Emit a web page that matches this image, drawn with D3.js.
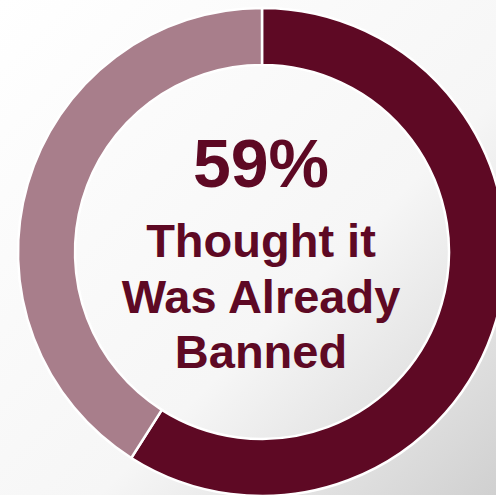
<!DOCTYPE html>
<html>
<head>
<meta charset="utf-8">
<script src="https://cdn.jsdelivr.net/npm/d3@7"></script>
<style>
  html, body { margin: 0; padding: 0; overflow: hidden; }
  svg { display: block; }
</style>
</head>
<body>
<svg id="chart"></svg>
<script>
// data
var categories = ["Thought it was already banned", "Did not"];
var values = [59, 41];
var sliceColors = ["#5e0924", "#a87e8b"];
var labelLines = ["59%", "Thought it", "Was Already", "Banned"];

const width = 496;
const height = 495;
const cx = 262, cy = 252;
const outerR = 244, innerR = 187;

var svg = d3.select("#chart")
	.attr("width", width)
	.attr("height", height);

// background gradient
var defs = svg.append("defs");
var grad = defs.append("linearGradient")
	.attr("id", "bg")
	.attr("x1", "0").attr("y1", "0")
	.attr("x2", "1").attr("y2", "1");
grad.append("stop").attr("offset", "0").attr("stop-color", "#ffffff");
grad.append("stop").attr("offset", "0.6").attr("stop-color", "#f6f6f6");
grad.append("stop").attr("offset", "1").attr("stop-color", "#d0d0d0");

svg.append("rect")
	.attr("width", width)
	.attr("height", height)
	.attr("fill", "url(#bg)");

var pie = d3.pie().sort(null).value(d => d);
var arc = d3.arc().innerRadius(innerR).outerRadius(outerR);

var g = svg.append("g")
	.attr("transform", "translate(" + cx + "," + cy + ")");

g.selectAll("path.slice")
	.data(pie(values))
	.enter()
	.append("path")
		.attr("class", "slice")
		.attr("d", arc)
		.attr("fill", (d, i) => sliceColors[i])
		.attr("stroke", "#ffffff")
		.attr("stroke-width", 2.5)
		.attr("stroke-linejoin", "miter");

// center label
var sizes = [68, 47, 47, 47];
var baselines = [187, 257, 312.5, 368];

svg.selectAll("text.label")
	.data(labelLines)
	.enter()
	.append("text")
		.attr("class", "label")
		.attr("x", 261)
		.attr("y", (d, i) => baselines[i])
		.attr("text-anchor", "middle")
		.attr("font-family", "'Liberation Sans', Arial, sans-serif")
		.attr("font-weight", "bold")
		.attr("font-size", (d, i) => sizes[i])
		.attr("fill", "#5e0924")
		.text(d => d);
</script>
</body>
</html>
